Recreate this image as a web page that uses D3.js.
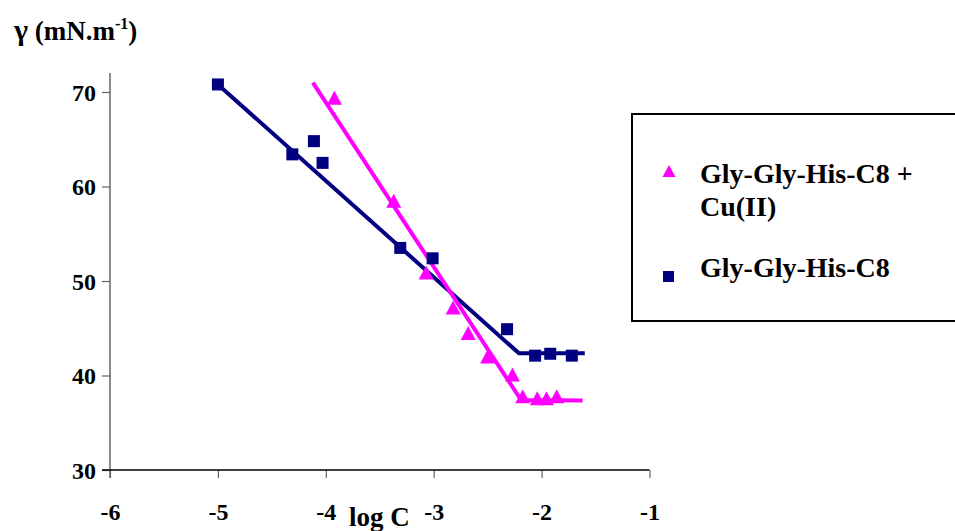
<!DOCTYPE html>
<html>
<head>
<meta charset="utf-8">
<script src="https://cdn.jsdelivr.net/npm/d3@7"></script>
<style>
  html, body { margin: 0; padding: 0; background: #fff; }
  svg { display: block; }
  text { font-family: "Palatino Linotype", "Book Antiqua", Palatino, "Liberation Serif", serif; font-weight: bold; fill: #000; }
</style>
</head>
<body>
<svg id="chart" width="955" height="531"></svg>
<script>
// ---- data ----
const xTicks = [-6, -5, -4, -3, -2, -1];
const yTicks = [30, 40, 50, 60, 70];

const seriesNames = ["Gly-Gly-His-C8 + Cu(II)", "Gly-Gly-His-C8"];

// Gly-Gly-His-C8 (navy squares)
const navyX = [-5.00, -4.31, -4.11, -4.03, -3.31, -3.01, -2.32, -2.06, -1.92, -1.72];
const navyY = [70.8, 63.4, 64.8, 62.5, 53.5, 52.4, 44.9, 42.1, 42.3, 42.1];
// Gly-Gly-His-C8 + Cu(II) (magenta triangles)
const magX = [-3.92, -3.37, -3.07, -2.82, -2.68, -2.50, -2.27, -2.175, -2.04, -1.955, -1.86];
const magY = [69.4, 58.5, 50.9, 47.2, 44.5, 42.0, 40.1, 37.8, 37.6, 37.6, 37.8];

// fitted lines
const navyFitX = [-5.00, -2.21, -1.60];
const navyFitY = [70.8, 42.35, 42.35];
const magFitX = [-4.12, -2.19, -1.62];
const magFitY = [71.0, 37.4, 37.35];

// ---- drawing ----
const svg = d3.select("#chart");
const NAVY = "#000080", MAG = "#FF00FF";
const FONT = '"Palatino Linotype", "Book Antiqua", Palatino, "Liberation Serif", serif';

const x = d3.scaleLinear().domain([-6, -1]).range([110, 649.5]);
const y = d3.scaleLinear().domain([30, 70]).range([470, 92]);

// y axis
const yAxis = d3.axisLeft(y).tickValues(yTicks).tickSize(8).tickPadding(6).tickFormat(d3.format("d"));
const gy = svg.append("g").attr("transform", `translate(${x(-6)},0)`).call(yAxis)
  .attr("font-family", null).attr("font-size", null);
gy.select(".domain").remove();
gy.selectAll(".tick line").attr("stroke", "#666").attr("stroke-width", 1.2);
gy.selectAll(".tick text").attr("dy", "0.35em")
  .style("font-family", FONT).style("font-size", "24px").style("font-weight", "bold").style("fill", "#000");
gy.append("line").attr("x1", 0).attr("x2", 0).attr("y1", y(72)).attr("y2", y(30) + 8)
  .attr("stroke", "#666").attr("stroke-width", 1.5);

// x axis
const xAxis = d3.axisBottom(x).tickValues(xTicks).tickSize(8).tickPadding(0).tickFormat(d => String(d).replace("\u2212", "-"));
const gx = svg.append("g").attr("transform", `translate(0,${y(30)})`).call(xAxis)
  .attr("font-family", null).attr("font-size", null);
gx.select(".domain").remove();
gx.selectAll(".tick line").attr("stroke", "#666").attr("stroke-width", 1.2);
gx.selectAll(".tick text").attr("y", 50).attr("dy", "0")
  .style("font-family", FONT).style("font-size", "24px").style("font-weight", "bold").style("fill", "#000");
gx.append("line").attr("x1", x(-6) - 8).attr("x2", x(-1)).attr("y1", 0).attr("y2", 0)
  .attr("stroke", "#000").attr("stroke-width", 1.5);

// axis titles
const yt = svg.append("text").attr("x", 14).attr("y", 40).style("font-size", "27px");
yt.append("tspan").style("font-size", "30px").text("γ");
yt.append("tspan").text(" (mN.m");
yt.append("tspan").attr("dy", -11).style("font-size", "16px").text("-1");
yt.append("tspan").attr("dy", 11).text(")");

svg.append("text").attr("x", 349).attr("y", 526).style("font-size", "27px").text("log C");

// fitted lines
const line = d3.line().x(d => x(d[0])).y(d => y(d[1]));
svg.append("path").datum(d3.zip(navyFitX, navyFitY)).attr("d", line)
  .attr("fill", "none").attr("stroke", NAVY).attr("stroke-width", 4).attr("stroke-linejoin", "miter");
svg.append("path").datum(d3.zip(magFitX, magFitY)).attr("d", line)
  .attr("fill", "none").attr("stroke", MAG).attr("stroke-width", 4).attr("stroke-linejoin", "miter");

// markers
const sq = 12;
svg.append("g").selectAll("rect").data(d3.zip(navyX, navyY)).join("rect")
  .attr("x", d => x(d[0]) - sq / 2).attr("y", d => y(d[1]) - sq / 2)
  .attr("width", sq).attr("height", sq).attr("fill", NAVY);

const tri = (cx, cy, w, h) => `M${cx},${cy - h / 2}L${cx + w / 2},${cy + h / 2}L${cx - w / 2},${cy + h / 2}Z`;
svg.append("g").selectAll("path").data(d3.zip(magX, magY)).join("path")
  .attr("d", d => tri(x(d[0]), y(d[1]), 15, 14)).attr("fill", MAG);

// legend
svg.append("rect").attr("x", 632).attr("y", 114).attr("width", 340).attr("height", 207)
  .attr("fill", "none").attr("stroke", "#000").attr("stroke-width", 2);
svg.append("path").attr("d", tri(669, 171, 13, 12)).attr("fill", MAG);
svg.append("rect").attr("x", 663).attr("y", 271).attr("width", 11).attr("height", 11).attr("fill", NAVY);
svg.append("text").attr("x", 700).attr("y", 183).style("font-size", "28px").text("Gly-Gly-His-C8 +");
svg.append("text").attr("x", 700).attr("y", 216).style("font-size", "28px").text("Cu(II)");
svg.append("text").attr("x", 700).attr("y", 277).style("font-size", "28px").text(seriesNames[1]);
</script>
</body>
</html>
